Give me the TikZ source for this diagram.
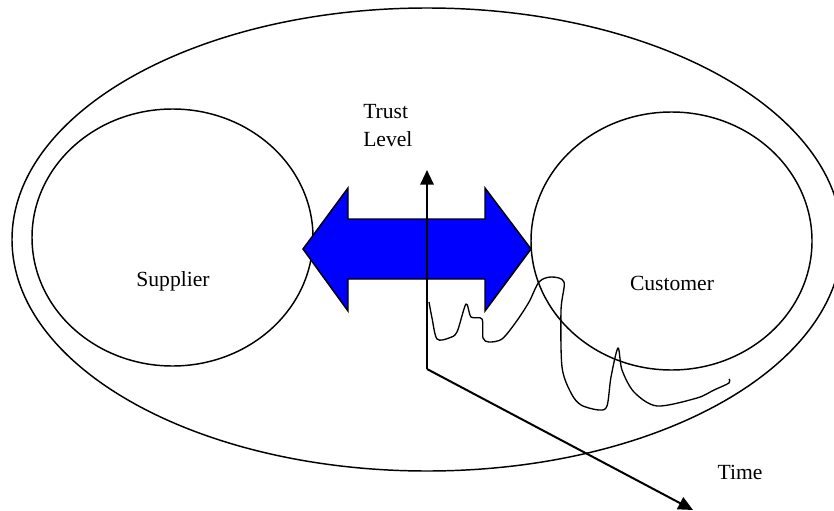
\documentclass[tikz,border=0pt]{standalone}
\usepackage{fontspec}
\setmainfont{Liberation Serif}
\usetikzlibrary{shapes.geometric,arrows.meta}
\begin{document}
\begin{tikzpicture}[x=0.75pt,y=-0.75pt,
  ring/.style={draw=black,line width=1.1pt,ellipse,inner sep=0pt},
  axis/.style={draw=black,line width=1.5pt,-{Triangle[length=11pt,width=10pt]}},
  lbl/.style={font=\fontsize{16.2}{19}\selectfont,inner sep=0pt}]
\useasboundingbox (0,0) rectangle (834,510);
\begin{scope}
\clip (0,0) rectangle (834,510);
\node[ring,minimum width=622.5pt,minimum height=347.25pt] (outer) at (427,239.5) {};
\end{scope}
\node[ring,minimum width=210.75pt,minimum height=192.75pt] (supplier) at (172.5,237.5) {};
\node[ring,minimum width=210.75pt,minimum height=193.5pt] (customer) at (671.5,241) {};
\node[lbl] (slabel) at (173,281) {Supplier};
\node[lbl] (clabel) at (672,283) {Customer};
\node[lbl,align=left,anchor=north west] (trust) at (363,104) {Trust\\[2pt]Level};
\node[lbl] (time) at (740,472) {Time};
\draw[draw=black,line width=1.1pt,fill=blue]
  (303,249) -- (348,188) -- (348,219) -- (485,219) -- (485,188) -- (531,249)
  -- (485,311) -- (485,279) -- (348,279) -- (348,311) -- cycle;
\coordinate (origin) at (427,369);
\coordinate (ytip) at (427,170);
\coordinate (xtip) at (693,510);
\draw[axis] (origin) -- (ytip);
\draw[axis] (origin) -- (xtip);
\draw[black,line width=1pt,line join=round] plot[smooth,tension=0.5] coordinates {
 (429,302) (432,318) (437,339) (449,338) (457,332) (466,304) (471,317) (482,319)
 (483,338) (489,342) (502,339) (516,322) (529,302) (539,282) (551,277) (564,282)
 (561,310) (562,367) (571,393) (581,405) (599,410) (607,406) (611,377) (618,348)
 (622,370) (634,392) (657,406) (697,398) (714,390) (729,383) (729,379)};
\end{tikzpicture}
\end{document}
